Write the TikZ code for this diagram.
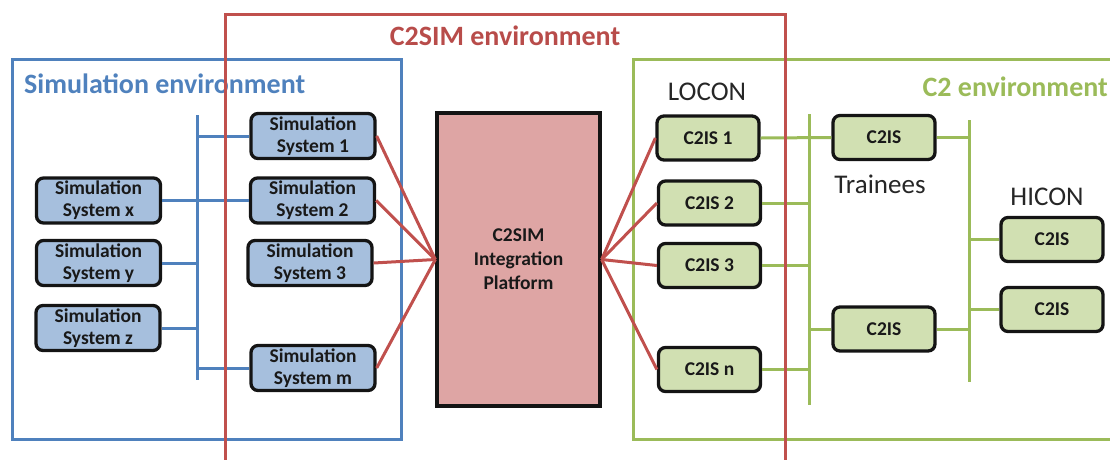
\documentclass[tikz,border=0pt]{standalone}
\usepackage{fontspec}
\setmainfont{Carlito}
\begin{document}
\begin{tikzpicture}[x=1pt,y=-1pt,
  envline/.style={line width=3pt},
  conn/.style={line width=3pt},
  sysbox/.style={draw=black!92, line width=3.3pt, rounded corners=7pt, fill=simfill,
    minimum width=124pt, minimum height=45pt, inner sep=0pt,
    align=center, font=\bfseries\fontsize{19.5}{22}\selectfont, text=black!90},
  c2box/.style={draw=black!92, line width=3.3pt, rounded corners=7pt, fill=c2fill,
    minimum width=102pt, minimum height=44pt, inner sep=0pt,
    font=\bfseries\fontsize{19.5}{22}\selectfont, text=black!90},
  envtitle/.style={font=\bfseries\fontsize{28}{30}\selectfont, inner sep=0pt},
  plainlabel/.style={font=\fontsize{27}{29}\selectfont, text=black!85, inner sep=0pt}
]
\definecolor{simblue}{HTML}{4F81BD}
\definecolor{simfill}{HTML}{A6BFDD}
\definecolor{c2green}{HTML}{9BBB59}
\definecolor{c2fill}{HTML}{D1E0B2}
\definecolor{c2red}{HTML}{C0504D}
\definecolor{platfill}{HTML}{DEA5A4}
\definecolor{redtitle}{HTML}{B84C4A}

\useasboundingbox (0,0) rectangle (1110,459);

% environment frames
\draw[envline, simblue] (12,59) rectangle (401,439);
\draw[envline, c2green] (1120,59) -- (633,59) -- (633,439) -- (1120,439);

\node[envtitle, text=simblue, anchor=west] (simtitle) at (24,84) {Simulation environment};
\node[envtitle, text=c2green, anchor=east] (c2title) at (1108,87) {C2 environment};
\node[envtitle, text=redtitle] (c2simtitle) at (505,36) {C2SIM environment};

% simulation systems
\node[sysbox] (simx) at (98.5,200.5) {Simulation\\System x};
\node[sysbox] (simy) at (98.5,263) {Simulation\\System y};
\node[sysbox] (simz) at (98,328) {Simulation\\System z};
\node[sysbox] (sim1) at (313,136) {Simulation\\System 1};
\node[sysbox] (sim2) at (312.5,200.5) {Simulation\\System 2};
\node[sysbox] (sim3) at (310,263) {Simulation\\System 3};
\node[sysbox] (simm) at (313,368) {Simulation\\System m};

% integration platform
\node[draw=black!92, line width=3.3pt, fill=platfill, minimum width=163pt, minimum height=293pt,
  inner sep=0pt, align=center, font=\bfseries\fontsize{19.5}{24}\selectfont, text=black!90]
  (plat) at (518.5,259.5) {C2SIM\\Integration\\Platform};

% C2 information systems
\node[c2box] (c2is1) at (708,138) {C2IS 1};
\node[c2box] (c2is2) at (709.5,203) {C2IS 2};
\node[c2box] (c2is3) at (709.5,265.5) {C2IS 3};
\node[c2box] (c2isn) at (709.5,369.5) {C2IS n};
\node[c2box] (tra) at (884,137.5) {C2IS};
\node[c2box] (trb) at (884,329) {C2IS};
\node[c2box] (hia) at (1052,239.5) {C2IS};
\node[c2box] (hib) at (1052,309.5) {C2IS};

\node[plainlabel] (locon) at (707,92) {LOCON};
\node[plainlabel] (trainees) at (880,184) {Trainees};
\node[plainlabel] (hicon) at (1047,197) {HICON};

% simulation bus
\coordinate (sbtop) at (197,115);
\coordinate (sbbot) at (197,380);
\draw[conn, simblue] (sbtop) -- (sbbot);
\draw[conn, simblue] (sim1.west) -- (sim1.west -| sbtop);
\draw[conn, simblue] (simx.east) -- (sim2.west);
\draw[conn, simblue] (simy.east) -- (simy.east -| sbtop);
\draw[conn, simblue] (simz.east) -- (simz.east -| sbtop);
\draw[conn, simblue] (simm.west) -- (simm.west -| sbtop);

% C2 buses
\coordinate (gbatop) at (809,114);
\coordinate (gbabot) at (809,405);
\coordinate (gbbtop) at (969,120);
\coordinate (gbbbot) at (969,382);
\draw[conn, c2green] (gbatop) -- (gbabot);
\draw[conn, c2green] (gbbtop) -- (gbbbot);
\draw[conn, c2green] (c2is1.east) -- (tra.west);
\draw[conn, c2green] (c2is2.east) -- (c2is2.east -| gbatop);
\draw[conn, c2green] (c2is3.east) -- (c2is3.east -| gbatop);
\draw[conn, c2green] (c2isn.east) -- (c2isn.east -| gbatop);
\draw[conn, c2green] (trb.west) -- (trb.west -| gbatop);
\draw[conn, c2green] (tra.east) -- (tra.east -| gbbtop);
\draw[conn, c2green] (trb.east) -- (trb.east -| gbbtop);
\draw[conn, c2green] (hia.west) -- (hia.west -| gbbtop);
\draw[conn, c2green] (hib.west) -- (hib.west -| gbbtop);

% links to the integration platform
\foreach \s in {sim1,sim2,sim3,simm}
  \draw[conn, c2red] (\s.east) -- (plat.west);
\foreach \c in {c2is1,c2is2,c2is3,c2isn}
  \draw[conn, c2red] (plat.east) -- (\c.west);

% C2SIM environment frame
\draw[envline, c2red] (225,470) -- (225,14) -- (785,14) -- (785,470);
\end{tikzpicture}
\end{document}
